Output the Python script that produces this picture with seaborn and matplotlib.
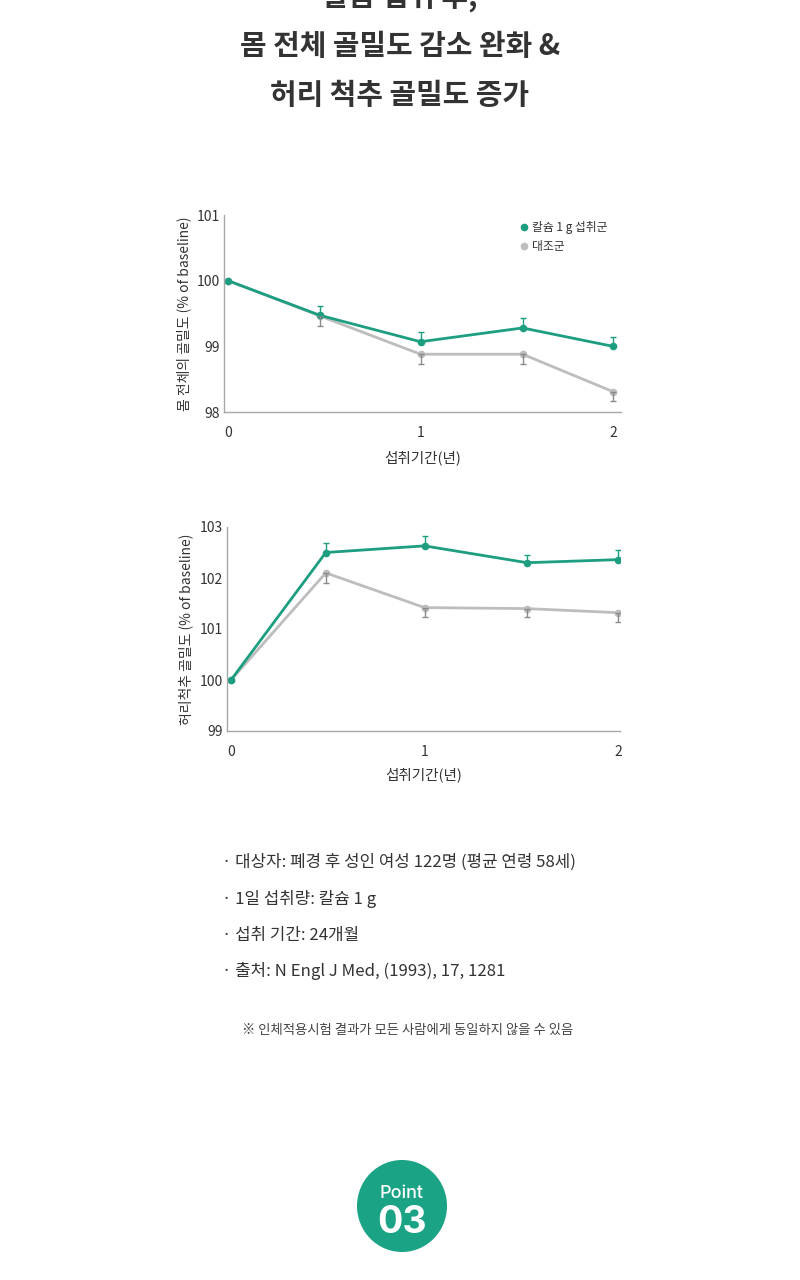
import numpy as np
import pandas as pd
import matplotlib
matplotlib.use("Agg")
import matplotlib.pyplot as plt
from matplotlib.lines import Line2D
from matplotlib.patches import Ellipse
import seaborn as sns

sns.set_theme(style="white")
plt.rcParams['font.family'] = ['Noto Sans CJK KR', 'DejaVu Sans']

# --- data ---
years = [0, 0.48, 1, 1.53, 2]
groups = ["칼슘 1 g 섭취군", "대조군"]

# whole body BMD (% of baseline)
body_ca = [100.0, 99.47, 99.07, 99.28, 99.0]
body_ctl = [100.0, 99.46, 98.88, 98.88, 98.31]
body_ca_err = [0, 0.14, 0.15, 0.15, 0.14]
body_ctl_err = [0, 0.15, 0.15, 0.15, 0.15]

# lumbar spine BMD (% of baseline)
spine_years = [0, 0.49, 1, 1.53, 2]
spine_ca = [100.0, 102.5, 102.63, 102.3, 102.36]
spine_ctl = [100.0, 102.1, 101.42, 101.4, 101.32]
spine_ca_err = [0, 0.18, 0.2, 0.16, 0.18]
spine_ctl_err = [0, 0.19, 0.18, 0.17, 0.18]

notes = [
    "· 대상자: 폐경 후 성인 여성 122명 (평균 연령 58세)",
    "· 1일 섭취량: 칼슘 1 g",
    "· 섭취 기간: 24개월",
    "· 출처: N Engl J Med, (1993), 17, 1281",
]
footnote = "※ 인체적용시험 결과가 모든 사람에게 동일하지 않을 수 있음"
title_lines = ["칼슘 섭취 후,", "몸 전체 골밀도 감소 완화 &", "허리 척추 골밀도 증가"]

TEAL = "#1d9e80"
GRAY = "#bdbdbd"
TXT = "#333333"
W, H = 800, 1280

fig = plt.figure(figsize=(8, 12.8), dpi=100)
fig.patch.set_facecolor("white")


def px_axes(left, top, right, bottom):
    return fig.add_axes([left / W, 1 - bottom / H, (right - left) / W, (bottom - top) / H])


def draw_panel(ax, xs, ca, ctl, ca_err, ctl_err, ylim, yticks, ylabel, xlab_y, ylab_x):
    df = pd.DataFrame({
        "year": list(xs) * 2,
        "bmd": list(ctl) + list(ca),
        "group": [groups[1]] * len(xs) + [groups[0]] * len(xs),
    })
    sns.lineplot(data=df, x="year", y="bmd", hue="group", hue_order=[groups[1], groups[0]],
                 palette={groups[0]: TEAL, groups[1]: GRAY}, marker="o", markersize=5.5,
                 markeredgewidth=0, linewidth=2, legend=False, ax=ax)
    # one-sided error bars: calcium upward, control downward
    ax.errorbar(xs[1:], ca[1:], yerr=[np.zeros(len(xs) - 1), ca_err[1:]], fmt="none",
                ecolor=TEAL, elinewidth=1, capsize=2.5, capthick=1, zorder=4)
    ax.errorbar(xs[1:], ctl[1:], yerr=[ctl_err[1:], np.zeros(len(xs) - 1)], fmt="none",
                ecolor="#8a8a8a", elinewidth=1, capsize=2.5, capthick=1, zorder=3)
    ax.set_ylim(*ylim)
    ax.set_yticks(yticks)
    ax.set_xticks([0, 1, 2])
    sns.despine(ax=ax)
    for s in ["left", "bottom"]:
        ax.spines[s].set_color("#a8a8a8")
        ax.spines[s].set_linewidth(1)
    ax.tick_params(axis="both", direction="in", length=3, width=0.8, color="#a8a8a8",
                   labelsize=10, labelcolor=TXT)
    ax.tick_params(axis="y", pad=3)
    ax.tick_params(axis="x", pad=10)
    ax.set_ylabel(ylabel, fontsize=10, color=TXT)
    ax.set_xlabel("섭취기간(년)", fontsize=10.5, color=TXT)
    ax.yaxis.set_label_coords(ylab_x, 0.5)
    ax.xaxis.set_label_coords(0.5, xlab_y)
    ax.set_facecolor("white")


# panel 1: whole body
ax1 = px_axes(224, 215, 621, 412)
draw_panel(ax1, years, body_ca, body_ctl, body_ca_err, body_ctl_err,
           (98, 101), [98, 99, 100, 101], "몸 전체의 골밀도 (% of baseline)", -0.195, -0.083)
ax1.set_xlim(-4 / 192.5, 2 + 8 / 192.5)
handles = [Line2D([], [], marker="o", linestyle="none", color=TEAL, markersize=4.5),
           Line2D([], [], marker="o", linestyle="none", color=GRAY, markersize=4.5)]
ax1.legend(handles, groups, loc="upper left", bbox_to_anchor=(0.725, 0.995), frameon=False,
           fontsize=8.5, handletextpad=0.1, labelspacing=0.55, handlelength=1.2,
           labelcolor=TXT, borderaxespad=0)

# panel 2: lumbar spine
ax2 = px_axes(227, 527, 620, 731)
draw_panel(ax2, spine_years, spine_ca, spine_ctl, spine_ca_err, spine_ctl_err,
           (99, 103), [99, 100, 101, 102, 103], "허리척추 골밀도 (% of baseline)", -0.176, -0.087)
ax2.set_xlim(-4 / 193.5, 2 + 2 / 193.5)

# title (first line cut by the top edge)
for i, line in enumerate(title_lines):
    y = -3 + 49 * i
    fig.text(0.5, 1 - y / H, line, ha="center", va="center", fontsize=20.8,
             fontweight="bold", color=TXT)

# notes
for i, line in enumerate(notes):
    y = 862 + 36.5 * i
    fig.text(222 / W, 1 - y / H, line, ha="left", va="center", fontsize=12.1, color=TXT)
fig.text(408 / W, 1 - 1030 / H, footnote, ha="center", va="center", fontsize=9.6, color="#444444")

# Point 03 badge
fig.patches.append(Ellipse((402 / W, 1 - 1206 / H), 90 / W, 92 / H, transform=fig.transFigure,
                           facecolor="#1aa385", edgecolor="none"))
fig.text(402 / W, 1 - 1194 / H, "Point", ha="center", va="center", fontsize=13,
         color="white", family=["Inter", "DejaVu Sans"], fontweight="medium")
fig.text(402 / W, 1 - 1223 / H, "03", ha="center", va="center", fontsize=27,
         color="white", family=["Inter", "DejaVu Sans"], fontweight="bold")

fig.savefig("out.png", dpi=100, facecolor="white")
